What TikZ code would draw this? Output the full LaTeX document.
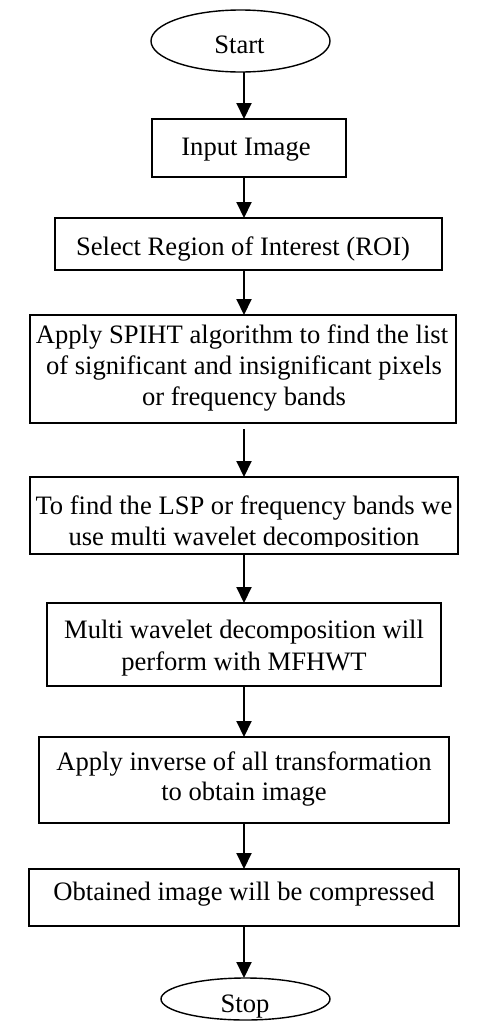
\documentclass[tikz,border=0pt]{standalone}
\usepackage{fontspec}
\setmainfont{Liberation Serif}
\usetikzlibrary{shapes.geometric,arrows.meta}
\begin{document}
\begin{tikzpicture}[x=1pt,y=-1pt,
  boxst/.style={draw,line width=1.4pt,rectangle,inner sep=0pt,outer sep=0pt},
  ovalst/.style={draw,line width=1.4pt,ellipse,inner sep=0pt,outer sep=0pt},
  txt/.style={inner sep=0pt,anchor=base,font=\fontsize{26.6}{31}\selectfont},
  arr/.style={line width=2pt,-{Triangle[length=16pt,width=15pt]}}]
\useasboundingbox (0,0) rectangle (478,1021);
\coordinate (ax) at (244,0);
% shapes
\node[ovalst,minimum width=179,minimum height=62] (start) at (240.5,41) {};
\node[boxst,minimum width=194,minimum height=58] (input) at (249,148) {};
\node[boxst,minimum width=387,minimum height=52] (roi) at (248.5,244) {};
\node[boxst,minimum width=426,minimum height=108] (spiht) at (243,369) {};
\node[boxst,minimum width=428,minimum height=77] (lsp) at (244,515.5) {};
\node[boxst,minimum width=394,minimum height=83] (mfhwt) at (244,644.5) {};
\node[boxst,minimum width=410,minimum height=86] (inv) at (244,780) {};
\node[boxst,minimum width=430,minimum height=57] (obt) at (244,897.5) {};
\node[ovalst,minimum width=169,minimum height=42] (stop) at (245.5,999) {};
% texts
\node[txt] (tstart) at (239.5,53) {Start};
\node[txt] (tinput) at (246,155) {Input Image};
\node[txt] (troi) at (243,255) {Select Region of Interest (ROI)};
\node[txt] (ts1) at (242,343) {Apply SPIHT algorithm to find the list};
\node[txt] (ts2) at (244,374) {of significant and insignificant pixels};
\node[txt] (ts3) at (244,405) {or frequency bands};
\node[txt] (tl1) at (244,514) {To find the LSP or frequency bands we};
\begin{scope}
\clip (0,478) rectangle (478,546.5);
\node[txt] (tl2) at (244,545) {use multi wavelet decomposition};
\end{scope}
\node[txt] (tm1) at (244,638) {Multi wavelet decomposition will};
\node[txt] (tm2) at (244,670) {perform with MFHWT};
\node[txt] (ti1) at (244,770) {Apply inverse of all transformation};
\node[txt] (ti2) at (244,800) {to obtain image};
\node[txt] (to1) at (244,900) {Obtained image will be compressed};
\node[txt] (tstop) at (245,1012) {Stop};
% arrows
\draw[arr] (start.south -| ax) -- (input.north -| ax);
\draw[arr] (input.south -| ax) -- (roi.north -| ax);
\draw[arr] (roi.south -| ax) -- (spiht.north -| ax);
\draw[arr] ([yshift=-6pt]spiht.south -| ax) -- (lsp.north -| ax);
\draw[arr] (lsp.south -| ax) -- (mfhwt.north -| ax);
\draw[arr] (mfhwt.south -| ax) -- (inv.north -| ax);
\draw[arr] (inv.south -| ax) -- (obt.north -| ax);
\draw[arr] (obt.south -| ax) -- (stop.north -| ax);
\end{tikzpicture}
\end{document}
